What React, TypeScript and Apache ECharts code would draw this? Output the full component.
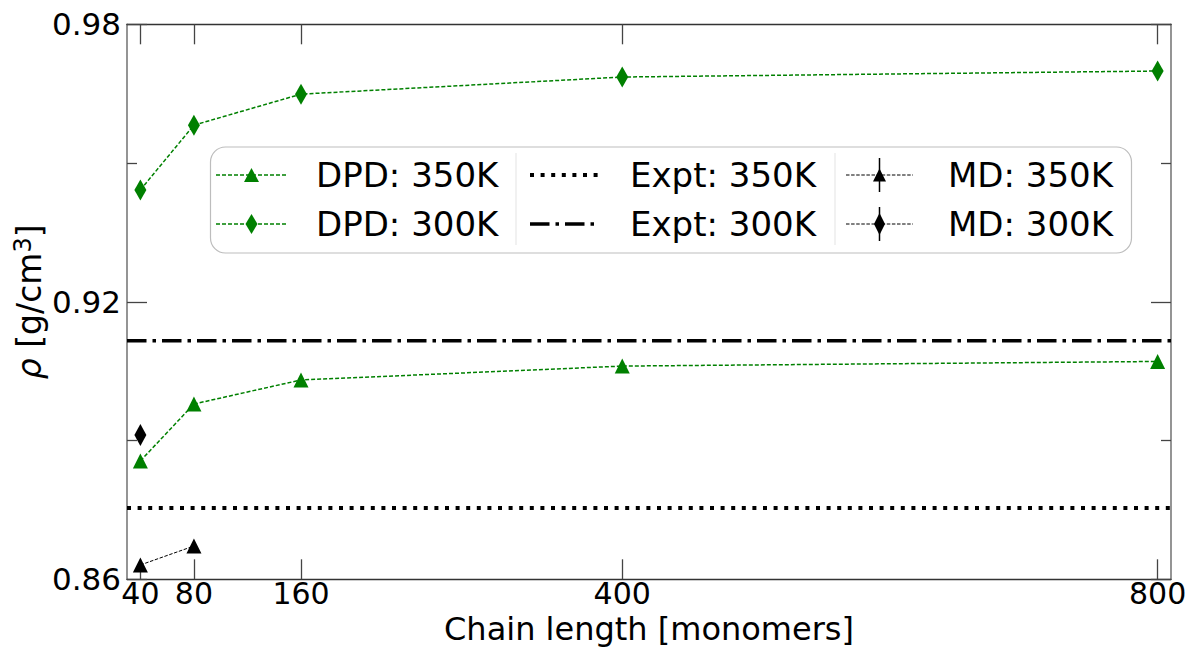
import React, { useEffect, useRef } from "react";
import * as echarts from "echarts";

const FONT = '"DejaVu Sans", "Liberation Sans", sans-serif';

// Data
const chainLengths = [40, 80, 160, 400, 800];
const dpd350 = [0.8856, 0.8979, 0.9031, 0.9061, 0.9071];
const dpd300 = [0.9442, 0.9582, 0.9649, 0.9686, 0.9699];
const mdLengths350 = [40, 80];
const md350 = [0.8631, 0.8672];
const mdLengths300 = [40];
const md300 = [0.8912];
const expt350 = 0.8754;
const expt300 = 0.9116;

// Axis ranges and ticks
const X_MIN = 30;
const X_MAX = 810;
const Y_MIN = 0.86;
const Y_MAX = 0.98;
const xTicks = [40, 80, 160, 400, 800];
const yMajorTicks = [0.86, 0.92, 0.98];
const yMinorTicks = [0.89, 0.95];

const GREEN = "#008000";

function pairs(xs: number[], ys: number[]) {
  return xs.map((x, i) => [x, ys[i]]);
}
// horizontal reference line spanning the whole x range
function spanLine(v: number) {
  return [X_MIN, X_MAX].map((x) => [x, v]);
}

function triangle(cx: number, cy: number, w: number, h: number, fill: string) {
  return {
    type: "polygon",
    shape: { points: [[cx, cy - h / 2], [cx + w / 2, cy + h / 2], [cx - w / 2, cy + h / 2]] },
    style: { fill },
    z: 102,
  };
}
function diamond(cx: number, cy: number, w: number, h: number, fill: string) {
  return {
    type: "polygon",
    shape: { points: [[cx, cy - h / 2], [cx + w / 2, cy], [cx, cy + h / 2], [cx - w / 2, cy]] },
    style: { fill },
    z: 102,
  };
}
function hline(x1: number, x2: number, y: number, stroke: string, lineWidth: number, lineDash?: number[]) {
  return {
    type: "line",
    shape: { x1, y1: y, x2, y2: y },
    style: { stroke, lineWidth, lineDash },
    z: 101,
  };
}
function label(text: string, x: number, y: number) {
  return {
    type: "text",
    x,
    y,
    style: { text, fontSize: 34, fontFamily: FONT, fill: "#000", align: "left", verticalAlign: "middle" },
    z: 102,
  };
}

export default function App() {
  const ref = useRef<HTMLDivElement>(null);

  useEffect(() => {
    if (!ref.current) return;
    const chart = echarts.init(ref.current, undefined, { renderer: "svg" });

    const r1 = 175;
    const r2 = 224;
    const dpdDash = [4, 2];
    const mdDash = [3.5, 1.6];
    const dotDash = [4, 6.6];
    const dashDot = [19.5, 6, 3.5, 6];

    const legendGraphic = [
      {
        type: "rect",
        shape: { x: 210.5, y: 147, width: 921, height: 106, r: 15 },
        style: { fill: "rgba(255,255,255,0.85)", stroke: "#bdbdbd", lineWidth: 1.2 },
        z: 100,
      },
      { type: "line", shape: { x1: 516, y1: 153, x2: 516, y2: 245 }, style: { stroke: "#e3e3e3", lineWidth: 1 }, z: 101 },
      { type: "line", shape: { x1: 835, y1: 153, x2: 835, y2: 245 }, style: { stroke: "#e3e3e3", lineWidth: 1 }, z: 101 },
      // DPD
      hline(216, 287, r1, GREEN, 1.5, dpdDash),
      triangle(251.5, r1, 15, 14, GREEN),
      label("DPD: 350K", 316, r1),
      hline(216, 287, r2, GREEN, 1.5, dpdDash),
      diamond(251.5, r2, 12, 20, GREEN),
      label("DPD: 300K", 316, r2),
      // Expt
      hline(530, 600, r1, "#000", 4, dotDash),
      label("Expt: 350K", 630, r1),
      hline(530, 600, r2, "#000", 3.5, dashDot),
      label("Expt: 300K", 630, r2),
      // MD
      hline(846, 913, r1, "#000", 1, mdDash),
      { type: "line", shape: { x1: 879.5, y1: r1 - 17, x2: 879.5, y2: r1 + 17 }, style: { stroke: "#000", lineWidth: 1.5 }, z: 101 },
      triangle(879.5, r1, 13, 13, "#000"),
      label("MD: 350K", 948, r1),
      hline(846, 913, r2, "#000", 1, mdDash),
      { type: "line", shape: { x1: 879.5, y1: r2 - 17, x2: 879.5, y2: r2 + 17 }, style: { stroke: "#000", lineWidth: 1.5 }, z: 101 },
      diamond(879.5, r2, 11, 22, "#000"),
      label("MD: 300K", 948, r2),
    ];

    const tickLabelStyle = { fontSize: 30, fontFamily: FONT, color: "#000" };
    const spineDark = { color: "#333", width: 1.3 };
    const spineGray = { color: "#7a7a7a", width: 1.6 };
    const tickStyle = { color: "#444", width: 1.3 };

    const yBase = {
      type: "value",
      min: Y_MIN,
      max: Y_MAX,
      splitLine: { show: false },
    };
    const xBase = {
      type: "value",
      min: X_MIN,
      max: X_MAX,
      splitLine: { show: false },
    };

    const option: any = {
      animation: false,
      backgroundColor: "#fff",
      grid: {
        left: 127,
        right: 19,
        top: 24.3,
        bottom: 68.7,
        containLabel: false,
        outerBoundsMode: "none",
      },
      xAxis: [
        {
          ...xBase,
          position: "bottom",
          axisLine: { show: true, lineStyle: spineDark },
          axisTick: { show: true, inside: true, length: 20, customValues: xTicks, lineStyle: tickStyle },
          axisLabel: { show: true, customValues: xTicks, margin: 0, lineHeight: 28, ...tickLabelStyle },
          name: "Chain length [monomers]",
          nameLocation: "middle",
          nameGap: 35,
          nameMoveOverlap: false,
          nameTextStyle: { fontSize: 32, lineHeight: 30, fontFamily: FONT, color: "#000" },
        },
        {
          ...xBase,
          position: "top",
          axisLine: { show: true, lineStyle: spineDark },
          axisTick: { show: true, inside: true, length: 20, customValues: xTicks, lineStyle: tickStyle },
          axisLabel: { show: false },
        },
      ],
      yAxis: [
        {
          ...yBase,
          position: "left",
          axisLine: { show: true, lineStyle: spineGray },
          axisTick: { show: true, inside: true, length: 20, customValues: yMajorTicks, lineStyle: tickStyle },
          axisLabel: {
            show: true,
            customValues: yMajorTicks,
            margin: 6,
            formatter: (v: number) => v.toFixed(2),
            fontSize: 31,
            fontFamily: FONT,
            color: "#000",
          },
          name: "{it|ρ} [g/cm{sup|3}]",
          nameLocation: "middle",
          nameRotate: 90,
          nameGap: 80,
          nameMoveOverlap: false,
          nameTextStyle: {
            fontSize: 33,
            fontFamily: FONT,
            color: "#000",
            rich: {
              it: { fontSize: 33, fontFamily: FONT, fontStyle: "italic", color: "#000" },
              sup: { fontSize: 24, fontFamily: FONT, color: "#000", verticalAlign: "top", padding: [0, 0, 12, 0] },
            },
          },
        },
        {
          ...yBase,
          position: "left",
          axisLine: { show: false },
          axisTick: { show: true, inside: true, length: 10, customValues: yMinorTicks, lineStyle: tickStyle },
          axisLabel: { show: false },
        },
        {
          ...yBase,
          position: "right",
          axisLine: { show: true, lineStyle: spineGray },
          axisTick: { show: true, inside: true, length: 20, customValues: yMajorTicks, lineStyle: tickStyle },
          axisLabel: { show: false },
        },
        {
          ...yBase,
          position: "right",
          axisLine: { show: false },
          axisTick: { show: true, inside: true, length: 10, customValues: yMinorTicks, lineStyle: tickStyle },
          axisLabel: { show: false },
        },
      ],
      series: [
        {
          name: "Expt: 350K",
          type: "line",
          data: spanLine(expt350),
          showSymbol: false,
          symbol: "none",
          silent: true,
          lineStyle: { color: "#000", width: 4, type: dotDash, cap: "butt" },
          z: 2,
        },
        {
          name: "Expt: 300K",
          type: "line",
          data: spanLine(expt300),
          showSymbol: false,
          symbol: "none",
          silent: true,
          lineStyle: { color: "#000", width: 3.5, type: dashDot, cap: "butt" },
          z: 2,
        },
        {
          name: "DPD: 350K",
          type: "line",
          data: pairs(chainLengths, dpd350),
          symbol: "triangle",
          symbolSize: [15, 15],
          itemStyle: { color: GREEN },
          lineStyle: { color: GREEN, width: 1.5, type: dpdDash },
          z: 3,
        },
        {
          name: "DPD: 300K",
          type: "line",
          data: pairs(chainLengths, dpd300),
          symbol: "diamond",
          symbolSize: [12, 21],
          itemStyle: { color: GREEN },
          lineStyle: { color: GREEN, width: 1.5, type: dpdDash },
          z: 3,
        },
        {
          name: "MD: 350K",
          type: "line",
          data: pairs(mdLengths350, md350),
          symbol: "triangle",
          symbolSize: [15, 15],
          itemStyle: { color: "#000" },
          lineStyle: { color: "#000", width: 1, type: mdDash },
          z: 3,
        },
        {
          name: "MD: 300K",
          type: "line",
          data: pairs(mdLengths300, md300),
          symbol: "diamond",
          symbolSize: [12, 22],
          itemStyle: { color: "#000" },
          lineStyle: { color: "#000", width: 1, type: mdDash },
          z: 3,
        },
      ],
      graphic: legendGraphic,
    };

    chart.setOption(option);
    return () => chart.dispose();
  }, []);

  return (
    <div
      ref={ref}
      style={{ position: "fixed", left: 0, top: 0, width: 1190, height: 648, background: "#fff" }}
    />
  );
}
